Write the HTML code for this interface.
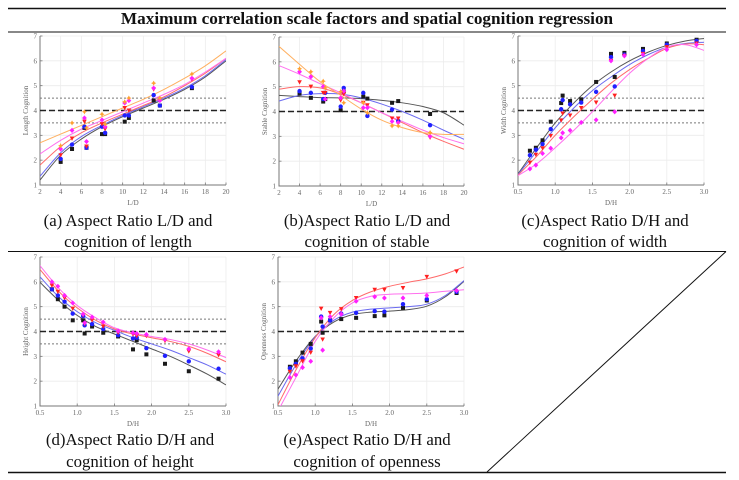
<!DOCTYPE html>
<html><head><meta charset="utf-8">
<style>
html,body{margin:0;padding:0;background:#fff;}
svg{display:block;}
.cap{font-family:"Liberation Serif",serif;font-size:16.8px;fill:#111;}
.tk{font-family:"Liberation Serif",serif;font-size:7px;fill:#666;}
</style></head>
<body>
<svg id="fig" width="739" height="480" viewBox="0 0 739 480" xmlns="http://www.w3.org/2000/svg">
<line x1="8" y1="8.5" x2="726" y2="8.5" stroke="#111" stroke-width="1.5"/>
<text x="367" y="24" text-anchor="middle" font-family="Liberation Serif,serif" font-weight="bold" font-size="17.2" fill="#111">Maximum correlation scale factors and spatial cognition regression</text>
<line x1="8" y1="32" x2="726" y2="32" stroke="#111" stroke-width="1"/>
<line x1="8" y1="251.5" x2="726" y2="251.5" stroke="#111" stroke-width="1"/>
<line x1="8" y1="472.5" x2="726" y2="472.5" stroke="#111" stroke-width="1.5"/>
<line x1="726" y1="251.5" x2="487" y2="472" stroke="#111" stroke-width="1"/>
<text class="cap" x="128" y="226" text-anchor="middle">(a) Aspect Ratio L/D and</text>
<text class="cap" x="128" y="247" text-anchor="middle">cognition of length</text>
<text class="cap" x="367" y="226" text-anchor="middle">(b)Aspect Ratio L/D and</text>
<text class="cap" x="367" y="247" text-anchor="middle">cognition of stable</text>
<text class="cap" x="605" y="226" text-anchor="middle">(c)Aspect Ratio D/H and</text>
<text class="cap" x="605" y="247" text-anchor="middle">cognition of width</text>
<text class="cap" x="130" y="445" text-anchor="middle">(d)Aspect Ratio D/H and</text>
<text class="cap" x="130" y="467" text-anchor="middle">cognition of height</text>
<text class="cap" x="367" y="445" text-anchor="middle">(e)Aspect Ratio D/H and</text>
<text class="cap" x="367" y="467" text-anchor="middle">cognition of openness</text>
</svg>
<script>
// ---- Chart (a): Length cognition vs L/D ----
const aX = [4,5.1,6.3,6.5,8,8.3,10.2,10.6,13,13.6,16.7];
const aBlack = [1.93,2.45,3.3,2.5,3.05,3.05,3.55,3.7,4.4,4.2,4.9];
const aBlue = [2.05,2.63,3.35,2.5,3.35,3.1,3.8,3.8,4.62,4.2,4.95];
const aRed = [2.2,2.87,3.55,2.55,3.45,3.25,4.1,4.0,4.85,4.45,5.25];
const aPink = [2.45,3.2,3.7,2.75,3.62,3.35,4.3,4.4,4.9,4.4,5.3];
const aOrange = [2.58,3.5,3.95,3.3,3.85,3.45,4.35,4.5,5.1,4.5,5.47];
const aCurveX = [2,4,6,8,10,12,14,16,18,20];
const aCurveBlack = [1.2,2.2,2.85,3.35,3.75,4.1,4.45,4.85,5.35,6.0];
const aCurveBlue = [1.35,2.3,2.95,3.4,3.8,4.15,4.5,4.9,5.4,6.05];
const aCurveRed = [1.8,2.55,3.1,3.5,3.85,4.2,4.55,5.0,5.5,6.1];
const aCurvePink = [2.25,2.8,3.25,3.6,3.95,4.3,4.65,5.05,5.55,6.1];
const aCurveOrange = [2.7,3.05,3.4,3.75,4.1,4.45,4.85,5.3,5.8,6.4];
// ---- Chart (b): Stable cognition vs L/D ----
const bX = [4,5.1,6.3,6.5,8,8.3,10.2,10.6,13,13.6,16.7];
const bBlack = [4.72,4.55,4.4,4.5,4.05,4.8,4.6,4.52,4.35,4.42,3.9];
const bBlue = [4.82,4.75,4.5,4.75,4.2,4.95,4.75,3.82,4.08,3.62,3.45];
const bRed = [5.18,5.0,4.75,4.75,4.45,4.7,4.35,4.25,3.72,3.72,2.95];
const bPink = [5.6,5.4,5.0,4.5,4.55,4.82,4.15,4.15,3.6,3.55,3.0];
const bOrange = [5.72,5.6,5.22,4.95,4.8,4.35,4.35,3.95,3.42,3.42,3.15];
const bCurveX = [2,4,6,8,10,12,14,16,18,20];
const bCurveBlack = [4.65,4.6,4.56,4.55,4.52,4.45,4.35,4.2,3.95,3.45];
const bCurveBlue = [4.42,4.65,4.72,4.7,4.55,4.3,4.0,3.65,3.25,2.88];
const bCurveRed = [4.9,5.0,4.95,4.7,4.35,3.95,3.55,3.15,2.8,2.48];
const bCurvePink = [5.85,5.5,5.12,4.75,4.35,3.95,3.6,3.25,2.95,2.7];
const bCurveOrange = [6.62,5.9,5.2,4.65,4.1,3.65,3.35,3.15,3.08,3.08];
// ---- Chart (c): Width cognition vs D/H ----
const cX = [0.66,0.74,0.83,0.94,1.08,1.1,1.2,1.35,1.55,1.75,1.8,1.93,2.18,2.5,2.9];
const cBlack = [2.38,2.5,2.8,3.55,4.3,4.6,4.38,4.45,5.15,6.28,5.35,6.32,6.48,6.7,6.85];
const cBlue = [2.2,2.42,2.65,3.25,4.05,4.42,4.25,4.32,4.75,6.15,4.97,6.25,6.4,6.65,6.8];
const cRed = [1.9,2.22,2.48,2.98,3.6,3.88,3.8,4.1,4.32,6.0,4.6,6.2,6.28,6.55,6.7];
const cPink = [1.65,1.8,2.27,2.48,2.9,3.1,3.2,3.52,3.62,6.0,3.95,6.2,6.25,6.45,6.65];
const cCurveX = [0.5,0.75,1.0,1.25,1.5,1.75,2.0,2.25,2.5,2.75,3.0];
const cCurveBlack = [1.45,2.5,3.5,4.3,5.0,5.55,6.0,6.35,6.62,6.8,6.9];
const cCurveBlue = [1.42,2.35,3.3,4.1,4.8,5.35,5.85,6.25,6.55,6.7,6.75];
const cCurveRed = [1.4,2.15,3.0,3.75,4.45,5.1,5.65,6.1,6.5,6.68,6.65];
const cCurvePink = [1.38,1.85,2.5,3.2,3.95,4.75,5.5,6.1,6.55,6.65,6.42];
// ---- Chart (d): Height cognition vs D/H ----
const dX = [0.66,0.74,0.83,0.94,1.08,1.1,1.2,1.35,1.55,1.75,1.8,1.93,2.18,2.5,2.9];
const dBlack = [5.7,5.3,5.0,4.45,4.45,3.92,4.2,3.95,3.8,3.28,3.65,3.08,2.7,2.4,2.1];
const dBlue = [5.7,5.45,5.2,4.72,4.62,4.25,4.3,4.1,3.85,3.72,3.75,3.33,3.02,2.8,2.5];
const dRed = [5.85,5.6,5.35,4.92,4.65,4.3,4.45,4.2,3.95,3.88,3.82,3.82,3.62,3.2,3.05];
const dPink = [6.0,5.82,5.45,5.15,4.7,4.35,4.58,4.38,4.02,3.95,3.92,3.88,3.68,3.3,3.18];
const dCurveX = [0.5,0.75,1.0,1.25,1.5,1.75,2.0,2.25,2.5,2.75,3.0];
const dCurveBlack = [5.98,5.25,4.65,4.2,3.9,3.6,3.3,3.0,2.65,2.28,1.85];
const dCurveBlue = [6.2,5.4,4.8,4.35,4.05,3.75,3.5,3.25,2.95,2.65,2.28];
const dCurveRed = [6.5,5.62,4.95,4.45,4.1,3.9,3.75,3.6,3.4,3.12,2.78];
const dCurvePink = [6.65,5.75,5.05,4.55,4.15,3.95,3.8,3.68,3.5,3.25,2.95];
// ---- Chart (e): Openness cognition vs D/H ----
const eX = [0.66,0.74,0.83,0.94,1.08,1.1,1.2,1.35,1.55,1.8,1.93,2.18,2.5,2.9];
const eBlack = [2.58,2.8,3.15,3.5,4.4,3.95,4.45,4.5,4.55,4.62,4.65,4.95,5.25,5.55];
const eBlue = [2.52,2.7,2.92,3.32,4.6,4.2,4.45,4.72,4.75,4.82,4.8,5.1,5.3,5.6];
const eRed = [2.38,2.6,2.8,3.15,4.92,3.68,4.75,4.9,5.35,5.68,5.68,5.75,6.2,6.42];
const ePink = [2.15,2.25,2.55,2.8,4.55,3.25,4.6,4.7,5.22,5.4,5.35,5.35,5.45,5.65];
const eCurveX = [0.5,0.75,1.0,1.25,1.5,1.75,2.0,2.25,2.5,2.75,3.0];
const eCurveBlack = [1.68,2.85,3.8,4.38,4.68,4.78,4.82,4.88,5.02,5.4,6.02];
const eCurveBlue = [1.4,2.7,3.78,4.45,4.78,4.9,4.95,5.0,5.1,5.45,6.05];
const eCurveRed = [1.05,2.5,3.75,4.68,5.25,5.6,5.82,5.98,6.12,6.32,6.6];
const eCurvePink = [0.8,2.2,3.6,4.55,5.15,5.42,5.5,5.52,5.55,5.62,5.68];
// tick labels
const ldTicks = [2,4,6,8,10,12,14,16,18,20];
const dhTicks = ["0.5","1.0","1.5","2.0","2.5","3.0"];
const yTicks = [1,2,3,4,5,6,7];

const NS = "http://www.w3.org/2000/svg";
const svg = document.getElementById('fig');
const COL = {black:['#1a1a1a','#555'],blue:['#2020ff','#6a6af0'],red:['#ff2020','#ff6a6a'],pink:['#ff20ff','#ff70ee'],orange:['#ffa030','#ffb060']};
function mk(tag, attrs, parent){const e=document.createElementNS(NS,tag);for(const k in attrs)e.setAttribute(k,attrs[k]);(parent||svg).appendChild(e);return e;}
function smooth(pts){let d='M'+pts[0][0]+','+pts[0][1];for(let i=0;i<pts.length-1;i++){const p0=pts[i-1]||pts[i],p1=pts[i],p2=pts[i+1],p3=pts[i+2]||p2;d+=' C'+(p1[0]+(p2[0]-p0[0])/6)+','+(p1[1]+(p2[1]-p0[1])/6)+' '+(p2[0]-(p3[0]-p1[0])/6)+','+(p2[1]-(p3[1]-p1[1])/6)+' '+p2[0]+','+p2[1];}return d;}
function marker(g,kind,x,y,c){
  let e;
  if(kind==='black'){e=mk('rect',{x:x-2,y:y-2,width:4,height:4,fill:c},g);}
  else if(kind==='blue'){e=mk('circle',{cx:x,cy:y,r:2.2,fill:c},g);}
  else if(kind==='red'){e=mk('polygon',{points:(x-2.3)+','+(y-2)+' '+(x+2.3)+','+(y-2)+' '+x+','+(y+2.3),fill:c},g);}
  else if(kind==='pink'){e=mk('polygon',{points:x+','+(y-2.6)+' '+(x+2.4)+','+y+' '+x+','+(y+2.6)+' '+(x-2.4)+','+y,fill:c},g);}
  else {e=mk('polygon',{points:x+','+(y-2.6)+' '+(x+1)+','+(y-0.8)+' '+(x+2.6)+','+y+' '+(x+1)+','+(y+0.8)+' '+x+','+(y+2.6)+' '+(x-1)+','+(y+0.8)+' '+(x-2.6)+','+y+' '+(x-1)+','+(y-0.8),fill:c},g);}
  
  
}
function chart(id,box,xmin,xmax,xt,xtl,ytitle,xtitle,refs,pts,curves){
  const g=mk('g',{});
  
  
  const sx=v=>box.x0+(v-xmin)/(xmax-xmin)*(box.x1-box.x0);
  const sy=v=>box.y1-(v-1)/6*(box.y1-box.y0);
  xt.forEach(v=>{const l=mk('line',{x1:sx(v),x2:sx(v),y1:box.y0,y2:box.y1,stroke:'#ececec','stroke-width':0.8},g);});
  yTicks.forEach(v=>{const l=mk('line',{x1:box.x0,x2:box.x1,y1:sy(v),y2:sy(v),stroke:'#ececec','stroke-width':0.8},g);});
  const ax=mk('path',{d:'M'+box.x0+','+box.y0+' V'+box.y1+' H'+box.x1,stroke:'#777',fill:'none','stroke-width':1},g);
  
  
  xt.forEach((v,i)=>{mk('line',{x1:sx(v),x2:sx(v),y1:box.y1,y2:box.y1-2.5,stroke:'#777','stroke-width':0.8},g);
    const t=mk('text',{x:sx(v),y:box.y1+9,'text-anchor':'middle',class:'tk'},g);t.textContent=xtl[i];
    });
  yTicks.forEach(v=>{mk('line',{x1:box.x0,x2:box.x0+2.5,y1:sy(v),y2:sy(v),stroke:'#777','stroke-width':0.8},g);
    const t=mk('text',{x:box.x0-3,y:sy(v)+2.5,'text-anchor':'end',class:'tk'},g);t.textContent=v;
    });
  const xtt=mk('text',{x:(box.x0+box.x1)/2,y:box.y1+20,'text-anchor':'middle',class:'tk'},g);xtt.textContent=xtitle;
  
  const ytt=mk('text',{x:0,y:0,'text-anchor':'middle',class:'tk',transform:'translate('+(box.x0-12)+','+((box.y0+box.y1)/2)+') rotate(-90)'},g);ytt.textContent=ytitle;
  
  const cp=mk('clipPath',{id:'clip-'+id},g);mk('rect',{x:box.x0,y:box.y0,width:box.x1-box.x0,height:box.y1-box.y0},cp);
  refs.forEach(r=>{const l=mk('line',{x1:box.x0,x2:box.x1,y1:sy(r),y2:sy(r),stroke:r===4?'#222':'#777','stroke-width':r===4?1.6:1,'stroke-dasharray':r===4?'6,3':'2,2'},g);
    });
  curves.forEach(c=>{const p=mk('path',{d:smooth(c.x.map((v,i)=>[sx(v),sy(c.y[i])])),fill:'none',stroke:COL[c.k][1],'stroke-width':1,'clip-path':'url(#clip-'+id+')'},g);
    });
  pts.forEach(s=>{s.y.forEach((v,i)=>marker(g,s.k,sx(s.x[i]),sy(v),COL[s.k][0]));});
}
chart('a',{x0:40,x1:226,y0:36,y1:185},2,20,ldTicks,ldTicks,'Length Cognition','L/D',[3.5,4.5,4],
  [{k:'black',x:aX,y:aBlack},{k:'blue',x:aX,y:aBlue},{k:'red',x:aX,y:aRed},{k:'pink',x:aX,y:aPink},{k:'orange',x:aX,y:aOrange}],
  [{k:'black',x:aCurveX,y:aCurveBlack},{k:'blue',x:aCurveX,y:aCurveBlue},{k:'red',x:aCurveX,y:aCurveRed},{k:'pink',x:aCurveX,y:aCurvePink},{k:'orange',x:aCurveX,y:aCurveOrange}]);
chart('b',{x0:279,x1:464,y0:37,y1:186},2,20,ldTicks,ldTicks,'Stable Cognition','L/D',[4],
  [{k:'black',x:bX,y:bBlack},{k:'blue',x:bX,y:bBlue},{k:'red',x:bX,y:bRed},{k:'pink',x:bX,y:bPink},{k:'orange',x:bX,y:bOrange}],
  [{k:'black',x:bCurveX,y:bCurveBlack},{k:'blue',x:bCurveX,y:bCurveBlue},{k:'red',x:bCurveX,y:bCurveRed},{k:'pink',x:bCurveX,y:bCurvePink},{k:'orange',x:bCurveX,y:bCurveOrange}]);
const dhVals=[0.5,1.0,1.5,2.0,2.5,3.0];
chart('c',{x0:518,x1:704,y0:36,y1:185},0.5,3,dhVals,dhTicks,'Width Cognition','D/H',[3.5,4.5,4],
  [{k:'black',x:cX,y:cBlack},{k:'blue',x:cX,y:cBlue},{k:'red',x:cX,y:cRed},{k:'pink',x:cX,y:cPink}],
  [{k:'black',x:cCurveX,y:cCurveBlack},{k:'blue',x:cCurveX,y:cCurveBlue},{k:'red',x:cCurveX,y:cCurveRed},{k:'pink',x:cCurveX,y:cCurvePink}]);
chart('d',{x0:40,x1:226,y0:257,y1:406},0.5,3,dhVals,dhTicks,'Height Cognition','D/H',[3.5,4.5,4],
  [{k:'black',x:dX,y:dBlack},{k:'blue',x:dX,y:dBlue},{k:'red',x:dX,y:dRed},{k:'pink',x:dX,y:dPink}],
  [{k:'black',x:dCurveX,y:dCurveBlack},{k:'blue',x:dCurveX,y:dCurveBlue},{k:'red',x:dCurveX,y:dCurveRed},{k:'pink',x:dCurveX,y:dCurvePink}]);
chart('e',{x0:278,x1:464,y0:257,y1:406},0.5,3,dhVals,dhTicks,'Openness Cognition','D/H',[4],
  [{k:'black',x:eX,y:eBlack},{k:'blue',x:eX,y:eBlue},{k:'red',x:eX,y:eRed},{k:'pink',x:eX,y:ePink}],
  [{k:'black',x:eCurveX,y:eCurveBlack},{k:'blue',x:eCurveX,y:eCurveBlue},{k:'red',x:eCurveX,y:eCurveRed},{k:'pink',x:eCurveX,y:eCurvePink}]);
</script>
</body></html>
